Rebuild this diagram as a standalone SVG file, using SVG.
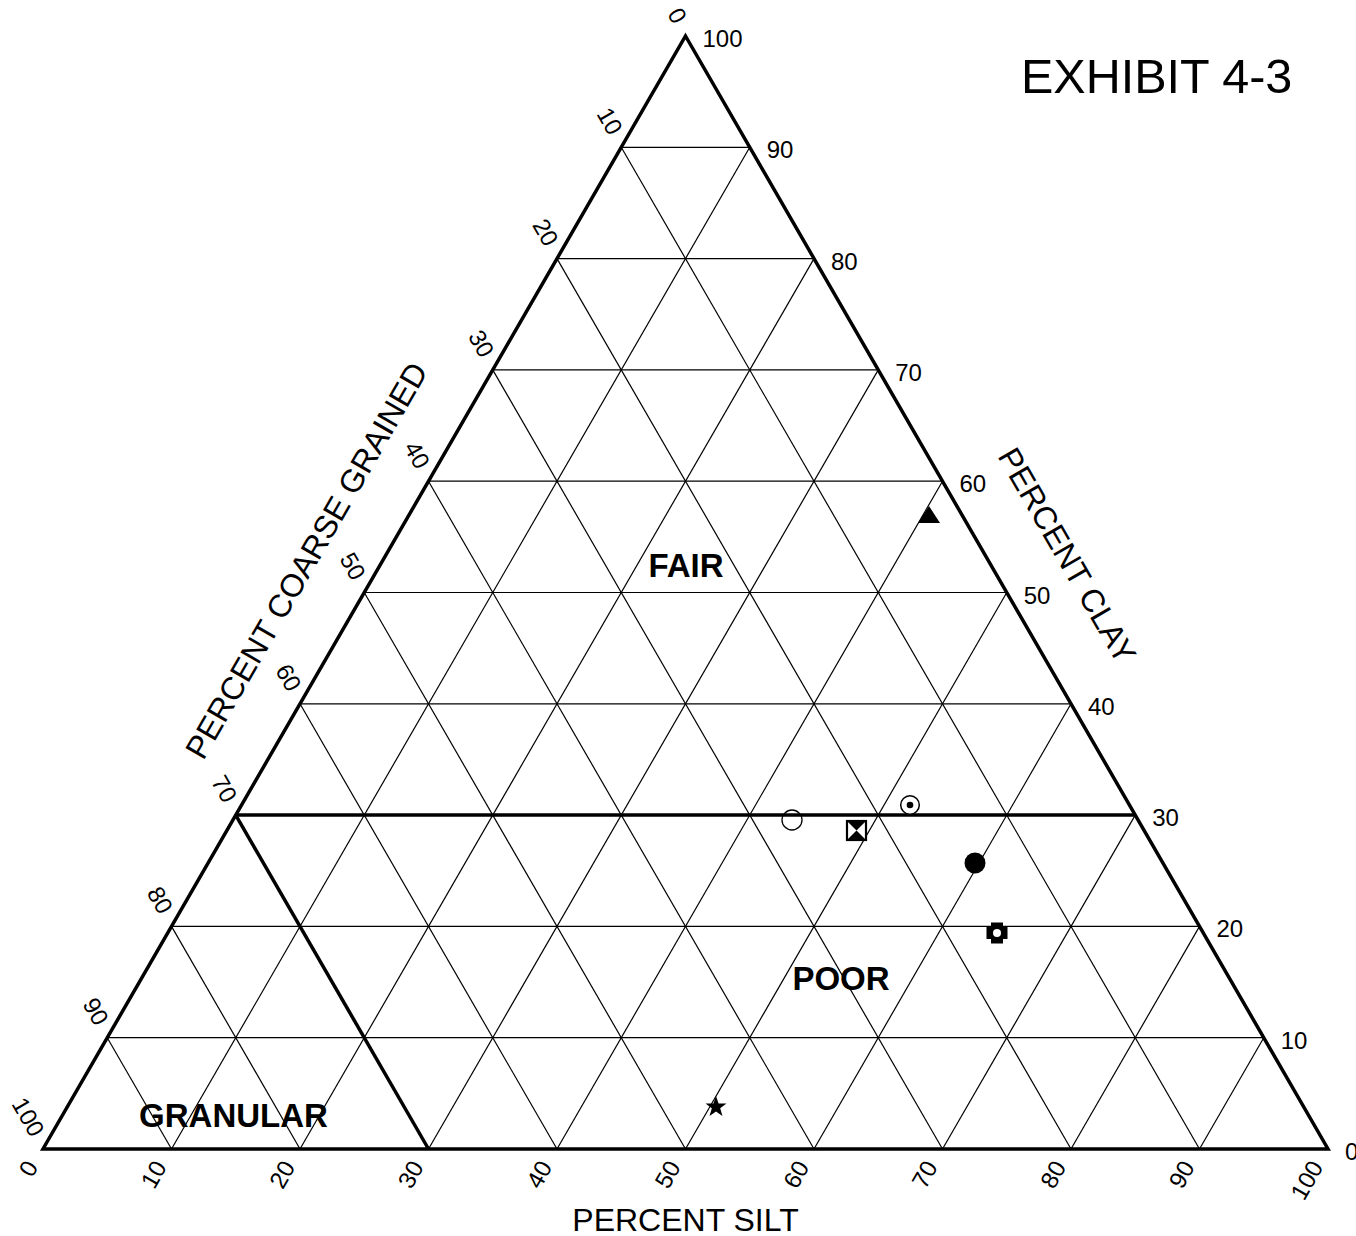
<svg xmlns="http://www.w3.org/2000/svg" width="1356" height="1236" viewBox="0 0 1356 1236">
<style>
text{font-family:"Liberation Sans",Arial,sans-serif;fill:#000}
.n{font-size:24px}
.t{font-size:32px}
.b{font-size:33px;font-weight:bold;text-anchor:middle}
.g{stroke:#000;stroke-width:1.2;fill:none}
.k{stroke:#000;stroke-width:3.5;fill:none;stroke-linejoin:miter}
</style>
<rect width="1356" height="1236" fill="#fff"/>
<g id="grid" class="g">
<line x1="107.25" y1="1037.7" x2="1263.75" y2="1037.7"/>
<line x1="171.5" y1="926.4" x2="1199.5" y2="926.4"/>
<line x1="300" y1="703.8" x2="1071" y2="703.8"/>
<line x1="364.25" y1="592.5" x2="1006.75" y2="592.5"/>
<line x1="428.5" y1="481.2" x2="942.5" y2="481.2"/>
<line x1="492.75" y1="369.9" x2="878.25" y2="369.9"/>
<line x1="557" y1="258.6" x2="814" y2="258.6"/>
<line x1="621.25" y1="147.3" x2="749.75" y2="147.3"/>
<line x1="171.5" y1="1149" x2="107.25" y2="1037.7"/>
<line x1="300" y1="1149" x2="171.5" y2="926.4"/>
<line x1="557" y1="1149" x2="300" y2="703.8"/>
<line x1="685.5" y1="1149" x2="364.25" y2="592.5"/>
<line x1="814" y1="1149" x2="428.5" y2="481.2"/>
<line x1="942.5" y1="1149" x2="492.75" y2="369.9"/>
<line x1="1071" y1="1149" x2="557" y2="258.6"/>
<line x1="1199.5" y1="1149" x2="621.25" y2="147.3"/>
<line x1="171.5" y1="1149" x2="749.75" y2="147.3"/>
<line x1="300" y1="1149" x2="814" y2="258.6"/>
<line x1="428.5" y1="1149" x2="878.25" y2="369.9"/>
<line x1="557" y1="1149" x2="942.5" y2="481.2"/>
<line x1="685.5" y1="1149" x2="1006.75" y2="592.5"/>
<line x1="814" y1="1149" x2="1071" y2="703.8"/>
<line x1="942.5" y1="1149" x2="1135.25" y2="815.1"/>
<line x1="1071" y1="1149" x2="1199.5" y2="926.4"/>
<line x1="1199.5" y1="1149" x2="1263.75" y2="1037.7"/>
</g>
<g id="boundaries" class="k">
<polygon points="685.5,36 1328,1149 43,1149"/>
<line x1="235.75" y1="815.1" x2="1135.25" y2="815.1"/>
<line x1="235.75" y1="815.1" x2="428.5" y2="1149"/>
</g>
<g id="clay-labels" class="n">
<text x="702.5" y="47">100</text>
<text x="766.75" y="158.3">90</text>
<text x="831" y="269.6">80</text>
<text x="895.25" y="380.9">70</text>
<text x="959.5" y="492.2">60</text>
<text x="1023.75" y="603.5">50</text>
<text x="1088" y="714.8">40</text>
<text x="1152.25" y="826.1">30</text>
<text x="1216.5" y="937.4">20</text>
<text x="1280.75" y="1048.7">10</text>
<text x="1345" y="1160">0</text>
</g>
<g id="coarse-labels" class="n" text-anchor="end">
<text transform="translate(673.5,25.5) rotate(60)">0</text>
<text transform="translate(609.25,136.8) rotate(60)">10</text>
<text transform="translate(545,248.1) rotate(60)">20</text>
<text transform="translate(480.75,359.4) rotate(60)">30</text>
<text transform="translate(416.5,470.7) rotate(60)">40</text>
<text transform="translate(352.25,582) rotate(60)">50</text>
<text transform="translate(288,693.3) rotate(60)">60</text>
<text transform="translate(223.75,804.6) rotate(60)">70</text>
<text transform="translate(159.5,915.9) rotate(60)">80</text>
<text transform="translate(95.25,1027.2) rotate(60)">90</text>
<text transform="translate(31,1138.5) rotate(60)">100</text>
</g>
<g id="silt-labels" class="n" text-anchor="end">
<text transform="translate(39,1167) rotate(-60)">0</text>
<text transform="translate(167.5,1167) rotate(-60)">10</text>
<text transform="translate(296,1167) rotate(-60)">20</text>
<text transform="translate(424.5,1167) rotate(-60)">30</text>
<text transform="translate(553,1167) rotate(-60)">40</text>
<text transform="translate(681.5,1167) rotate(-60)">50</text>
<text transform="translate(810,1167) rotate(-60)">60</text>
<text transform="translate(938.5,1167) rotate(-60)">70</text>
<text transform="translate(1067,1167) rotate(-60)">80</text>
<text transform="translate(1195.5,1167) rotate(-60)">90</text>
<text transform="translate(1324,1167) rotate(-60)">100</text>
</g>
<g id="titles" class="t" text-anchor="middle">
<text x="685.5" y="1231">PERCENT SILT</text>
<text transform="translate(1057.5,561) rotate(60)">PERCENT CLAY</text>
<text transform="translate(316,566) rotate(-60)">PERCENT COARSE GRAINED</text>
<text x="1021" y="93" text-anchor="start" style="font-size:48.5px">EXHIBIT 4-3</text>
</g>
<g id="regions">
<text class="b" x="686" y="577">FAIR</text>
<text class="b" x="841" y="990">POOR</text>
<text class="b" x="233.5" y="1127">GRANULAR</text>
</g>
<g id="samples">
<polygon id="s-triangle" points="929,506 918,523 940,523" fill="#000"/>
<circle id="s-open" cx="792" cy="820" r="10" fill="none" stroke="#000" stroke-width="1.3"/>
<g id="s-dot"><circle cx="910" cy="805" r="9.3" fill="#fff" stroke="#000" stroke-width="1.5"/><circle cx="910" cy="805" r="3.3" fill="#000"/></g>
<g id="s-hourglass"><rect x="847" y="821" width="19" height="19" fill="#fff" stroke="#000" stroke-width="2.2"/><polygon points="847,821 866,821 856.5,830.5" fill="#000"/><polygon points="847,840 866,840 856.5,830.5" fill="#000"/></g>
<circle id="s-filled" cx="975" cy="863" r="10.5" fill="#000"/>
<g id="s-cross"><path d="M991,922.5h12v4.5h4.5v12h-4.5v4.5h-12v-4.5h-4.5v-12h4.5z" fill="#000"/><circle cx="997" cy="933" r="4" fill="#fff"/></g>
<polygon id="s-star" points="716,1096 718.59,1103.44 726.46,1103.6 720.18,1108.36 722.47,1115.9 716,1111.4 709.53,1115.9 711.82,1108.36 705.54,1103.6 713.41,1103.44" fill="#000"/>
</g>
</svg>
